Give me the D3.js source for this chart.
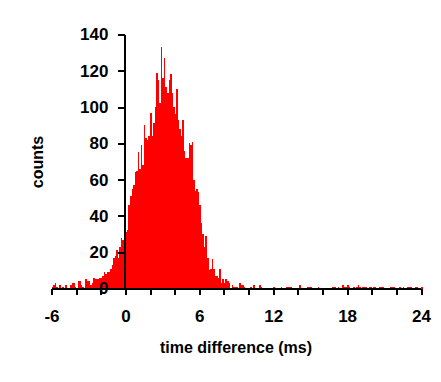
<!DOCTYPE html>
<html>
<head>
<meta charset="utf-8">
<script src="https://cdn.jsdelivr.net/npm/d3@7"></script>
<style>
  body { margin: 0; background: #fff; }
  svg { display: block; }
  text { font-family: "Liberation Sans", Arial, sans-serif; font-weight: bold; fill: #000; }
</style>
</head>
<body>
<div id="main"></div>
<script>
// histogram bins: first bin starts at binStart, each bin is binWidth ms wide
const binStart = -6;
const binWidth = 0.125;

// counts per bin, one row per ms (8 bins each)
const counts = [
  1, 2, 3, 1, 0, 2, 0, 1,          // -6
  0, 2, 0, 0, 2, 3, 3, 1,          // -5
  0, 4, 4, 2, 1, 0, 5, 4,          // -4
  4, 2, 3, 6, 5, 5, 5, 6,          // -3
  6, 7, 9, 8, 9, 9, 11, 13,        // -2
  17, 18, 21, 17, 23, 28, 27, 30,  // -1
  31, 32, 46, 51, 55, 57, 64, 65,  // 0
  75, 66, 79, 68, 90, 83, 82, 84,  // 1
  97, 84, 91, 100, 119, 115, 102, 133, // 2
  116, 127, 111, 108, 115, 118, 108, 100, // 3
  96, 110, 93, 88, 84, 93, 76, 72, // 4
  72, 80, 79, 81, 60, 54, 55, 53,  // 5
  46, 36, 30, 23, 29, 17, 10, 11,  // 6
  16, 11, 7, 7, 6, 11, 3, 5,       // 7
  3, 5, 4, 3, 0, 2, 1, 1,          // 8
  1, 0, 3, 2, 2, 1, 0, 0,          // 9
  0, 1, 0, 2, 0, 0, 0, 2,          // 10
  1, 0, 0, 0, 0, 0, 0, 0,          // 11
  1, 0, 0, 0, 0, 1, 0, 0,          // 12
  1, 1, 1, 1, 0, 0, 0, 0,          // 13
  0, 2, 0, 0, 0, 0, 1, 1,          // 14
  1, 0, 0, 0, 0, 1, 0, 0,          // 15
  0, 0, 0, 0, 0, 0, 1, 1,          // 16
  1, 0, 1, 0, 0, 2, 1, 1,          // 17
  2, 1, 0, 0, 1, 0, 1, 2,          // 18
  1, 0, 1, 1, 1, 0, 1, 1,          // 19
  0, 1, 1, 0, 0, 1, 1, 1,          // 20
  0, 0, 0, 0, 1, 1, 1, 0,          // 21
  0, 0, 1, 0, 1, 0, 0, 1,          // 22
  1, 1, 0, 0, 1, 1, 0, 0,          // 23
  1                                // 24
];

// axis ticks
const xTicks = [-6, -4, -2, 0, 2, 4, 6, 8, 10, 12, 14, 16, 18, 20, 22, 24];
const xLabels = [-6, 0, 6, 12, 18, 24];
const yTicks = [0, 20, 40, 60, 80, 100, 120, 140];

const xTitle = "time difference (ms)";
const yTitle = "counts";

const config = { width: 441, height: 382 };

const data = counts.map((c, i) => ({ x0: binStart + i * binWidth, x1: binStart + (i + 1) * binWidth, count: c }));

const svg = d3.select("#main")
  .append("svg")
    .attr("width", config.width)
    .attr("height", config.height);

const x = d3.scaleLinear()
    .domain([-6, 24])
    .range([51.5, 421]);

const y = d3.scaleLinear()
    .domain([0, 140])
    .range([288.5, 34.5]);

// bars
svg.append("g")
  .selectAll("rect")
  .data(data.filter(d => d.count > 0))
  .enter()
  .append("rect")
    .attr("x", d => x(d.x0))
    .attr("y", d => y(d.count))
    .attr("width", d => x(d.x1) - x(d.x0))
    .attr("height", d => y(0) - y(d.count))
    .attr("fill", "#ff0000")
    .attr("shape-rendering", "crispEdges");

// X axis
const xAxis = svg.append("g")
    .attr("transform", `translate(0,${y(0)})`)
    .call(d3.axisBottom(x)
      .tickValues(xTicks)
      .tickSize(6)
      .tickPadding(15)
      .tickFormat(d => xLabels.includes(d) ? String(d) : ""));

// Y axis sits at x = 0
const yAxis = svg.append("g")
    .attr("transform", `translate(${x(0)},0)`)
    .call(d3.axisLeft(y)
      .tickValues(yTicks)
      .tickSize(7)
      .tickPadding(10));

[xAxis, yAxis].forEach(a => {
  a.selectAll("line").attr("stroke", "#000").attr("stroke-width", 2).attr("shape-rendering", "crispEdges");
  a.selectAll("text")
    .style("font-family", "'Liberation Sans', Arial, sans-serif")
    .style("font-weight", "bold")
    .style("font-size", "17px")
    .attr("fill", "#000");
  a.select(".domain").attr("stroke", "#000").attr("stroke-width", 2).attr("shape-rendering", "crispEdges");
});

// plain axis lines (no end caps)
xAxis.select(".domain")
    .attr("d", `M${x(-6)},0H${x(24)}`);
yAxis.select(".domain")
    .attr("d", `M0,${y(0)}V${y(140)}`);

// axis titles
svg.append("text")
    .attr("x", 236)
    .attr("y", 353)
    .attr("text-anchor", "middle")
    .style("font-size", "16px")
    .text(xTitle);

svg.append("text")
    .attr("transform", "translate(43,162) rotate(-90)")
    .attr("text-anchor", "middle")
    .style("font-size", "16px")
    .text(yTitle);
</script>
</body>
</html>
